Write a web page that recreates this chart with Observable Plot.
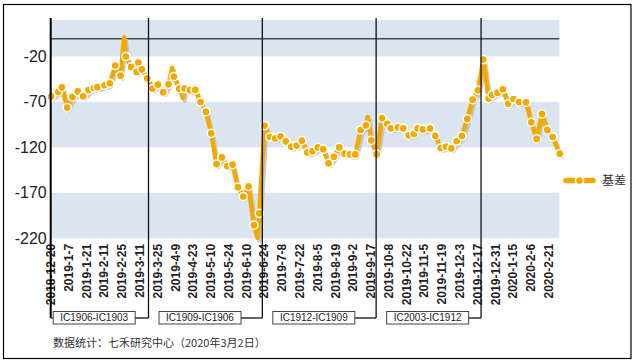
<!DOCTYPE html>
<html><head><meta charset="utf-8">
<script src="https://cdn.jsdelivr.net/npm/d3@7"></script>
<script src="https://cdn.jsdelivr.net/npm/@observablehq/plot@0.6"></script>
<style>
html,body{margin:0;padding:0;background:#fff;}
#chart{position:relative;width:636px;height:363px;overflow:hidden;}
#chart svg{display:block;}
</style></head><body><div id="chart"></div>
<script>
// ---- data ----
const tickLabels = ["2018-12-20","2019-1-7","2019-1-21","2019-2-11","2019-2-25","2019-3-11","2019-3-25","2019-4-9","2019-4-23","2019-5-10","2019-5-24","2019-6-10","2019-6-24","2019-7-8","2019-7-22","2019-8-5","2019-8-19","2019-9-2","2019-9-17","2019-10-8","2019-10-22","2019-11-5","2019-11-19","2019-12-3","2019-12-17","2019-12-31","2020-1-15","2020-2-6","2020-2-21"];
const tickDays = tickLabels.map((_, i) => i * 10);
const lastDay = 286; // 2020-3-2

const markerDays  = [0,4,6,9,12,15,18,21,24,26,30,33,36,39,42,45,48,49,51,54,57,60,63,66,69,72,75,78,81,84,87,90,93,96,99,102,105,108,111,114,117,120,123,126,129,132,135,138,141,144,147,150,153,156,159,162,165,168,171,174,177,180,183,186,189,191,195,198,201,204,206,209,213,216,219,222,225,228,231,234,237,240,243,246,248,251,254,257,260,263,267,270,273,276,279,282,286];
const markerBasis = [-63.5,-58.5,-53.5,-75.7,-64,-58,-63.3,-56.5,-54.2,-53.3,-51.2,-49,-29.5,-40.7,-19.6,-31,-36.5,-26.2,-33.7,-43.5,-54.8,-50.4,-58.8,-50.2,-41.6,-54.8,-54.8,-56.6,-56.3,-69.6,-80.2,-104,-137.8,-130.5,-140,-138.4,-163.2,-173.5,-162.4,-205,-192,-95.5,-108.1,-109.6,-107.3,-113,-118.7,-117.5,-112,-125,-123.7,-119.5,-121.5,-137,-129.8,-119.5,-126.4,-127.2,-127.2,-100.4,-95.2,-111.7,-127,-87.3,-93.7,-98.5,-97.4,-98.5,-106.2,-104.7,-98.5,-99.8,-98.5,-106.7,-120.2,-118.7,-120.5,-112.6,-107,-88.2,-67,-56.7,-23,-65.8,-61.8,-59.4,-55.7,-71.5,-66.3,-69.6,-70,-92,-110.2,-82.7,-100.3,-108.1,-126.4];
// extreme points on the line that carry no marker
const spikeDays  = [41, 68, 74, 116, 178];
const spikeBasis = [1.5, -32, -65, -219, -86];

const switchDays = [55, 119, 183, 242];
const contractLabels = ["IC1906-IC1903","IC1909-IC1906","IC1912-IC1909","IC2003-IC1912"];

const yTicks = [-220,-170,-120,-70,-20];
const yDomain = [-220, 20];
const bandLow  = [-220,-120,-20];
const bandHigh = [-170,-70,20];

const seriesName = "基差";
const footnote = "数据统计：七禾研究中心（2020年3月2日）";

// ---- build ----
const ORANGE = "#f4a900";
const markers = markerDays.map((d, i) => ({day: d, v: markerBasis[i]}));
const line = markers.concat(spikeDays.map((d, i) => ({day: d, v: spikeBasis[i]})))
  .sort((a, b) => a.day - b.day);
const bands = bandLow.map((lo, i) => ({lo, hi: bandHigh[i], x1: 0, x2: lastDay}));

const plot = Plot.plot({
  width: 636, height: 363,
  marginLeft: 50.7, marginRight: 76.7, marginTop: 20, marginBottom: 124.7,
  x: {domain: [0, lastDay]},
  y: {domain: yDomain},
  style: {fontFamily: "'Liberation Sans', Arial, sans-serif", background: "transparent", overflow: "visible"},
  marks: [
    Plot.rect(bands, {x1: "x1", x2: "x2", y1: "lo", y2: "hi", fill: "#dae5f0"}),
    Plot.ruleY([0], {stroke: "#4a4a4a", strokeWidth: 1.5}),
    Plot.line(line, {x: "day", y: "v", stroke: "#b9b9b9", strokeOpacity: 0.75, strokeWidth: 4, dx: 2, dy: 3, strokeLinejoin: "round"}),
    Plot.line(line, {x: "day", y: "v", stroke: ORANGE, strokeWidth: 4.5, strokeLinejoin: "round", strokeLinecap: "round"}),
    Plot.dot(markers, {x: "day", y: "v", r: 4.1, fill: ORANGE, stroke: "white", strokeWidth: 1.5}),
    Plot.axisY({ticks: yTicks, tickFormat: d => String(d), tickSize: 0, tickPadding: 4.5, label: null, fontSize: 16, fill: "#222"}),
    Plot.axisX({ticks: tickDays, tickFormat: d => tickLabels[d / 10], tickRotate: -90, tickSize: 0, tickPadding: 5, label: null, fontSize: 12, fontWeight: "bold", fill: "#222"})
  ]
});
document.getElementById("chart").appendChild(plot);

// ---- annotations ----
const svg = d3.select(plot);
const xs = plot.scale("x").apply, ys = plot.scale("y").apply;
const lineTopPx = ys(yDomain[1]) - 2;
const bracketY = 318;
const g = svg.append("g").attr("text-anchor", "start");

// y axis line
g.append("line").attr("x1", xs(0)).attr("x2", xs(0)).attr("y1", lineTopPx).attr("y2", bracketY)
  .attr("stroke", "#000").attr("stroke-width", 2);
// contract switch lines
switchDays.forEach(d => {
  g.append("line").attr("x1", xs(d)).attr("x2", xs(d)).attr("y1", lineTopPx).attr("y2", bracketY)
    .attr("stroke", "#111").attr("stroke-width", 1.3);
});
// boxes
const bounds = [0].concat(switchDays);
contractLabels.forEach((lab, i) => {
  const left = xs(bounds[i]) + (i === 0 ? 2 : 10);
  const w = 82, bx = left, by = 311.5, bh = 12.5;
  const right = bx + w;
  if (i === 0) g.append("line").attr("x1", xs(0)).attr("x2", bx).attr("y1", bracketY).attr("y2", bracketY).attr("stroke", "#111").attr("stroke-width", 1.3);
  g.append("line").attr("x1", right).attr("x2", xs(bounds[i + 1])).attr("y1", bracketY).attr("y2", bracketY).attr("stroke", "#111").attr("stroke-width", 1.3);
  g.append("rect").attr("x", bx + 0.5).attr("y", by).attr("width", w).attr("height", bh)
    .attr("fill", "#fff").attr("stroke", "#444").attr("stroke-width", 1);
  g.append("text").attr("x", bx + w / 2 + 0.5).attr("y", by + bh / 2 + 3.6).attr("text-anchor", "middle")
    .attr("font-size", 10).attr("font-family", "'Liberation Sans', Arial, sans-serif").attr("fill", "#222").text(lab);
});

// legend
const ly = 180.5;
g.append("line").attr("x1", 566).attr("x2", 593).attr("y1", ly).attr("y2", ly)
  .attr("stroke", ORANGE).attr("stroke-width", 5.5).attr("stroke-linecap", "round");
g.append("circle").attr("cx", 579.5).attr("cy", ly).attr("r", 4.1).attr("fill", ORANGE).attr("stroke", "#fff").attr("stroke-width", 1.5);
g.append("text").attr("x", 602).attr("y", ly + 4.5).attr("text-anchor", "start").attr("font-size", 12)
  .attr("font-family", "'Noto Sans CJK SC', sans-serif").attr("fill", "#333").text(seriesName);

// footnote
g.append("text").attr("x", 53).attr("y", 347).attr("text-anchor", "start").attr("font-size", 11)
  .attr("font-family", "'Noto Sans CJK SC', sans-serif").attr("fill", "#333").text(footnote);

// outer border
g.append("rect").attr("x", 3.5).attr("y", 4.5).attr("width", 627.5).attr("height", 354)
  .attr("fill", "none").attr("stroke", "#000").attr("stroke-width", 1.2);
</script></body></html>
